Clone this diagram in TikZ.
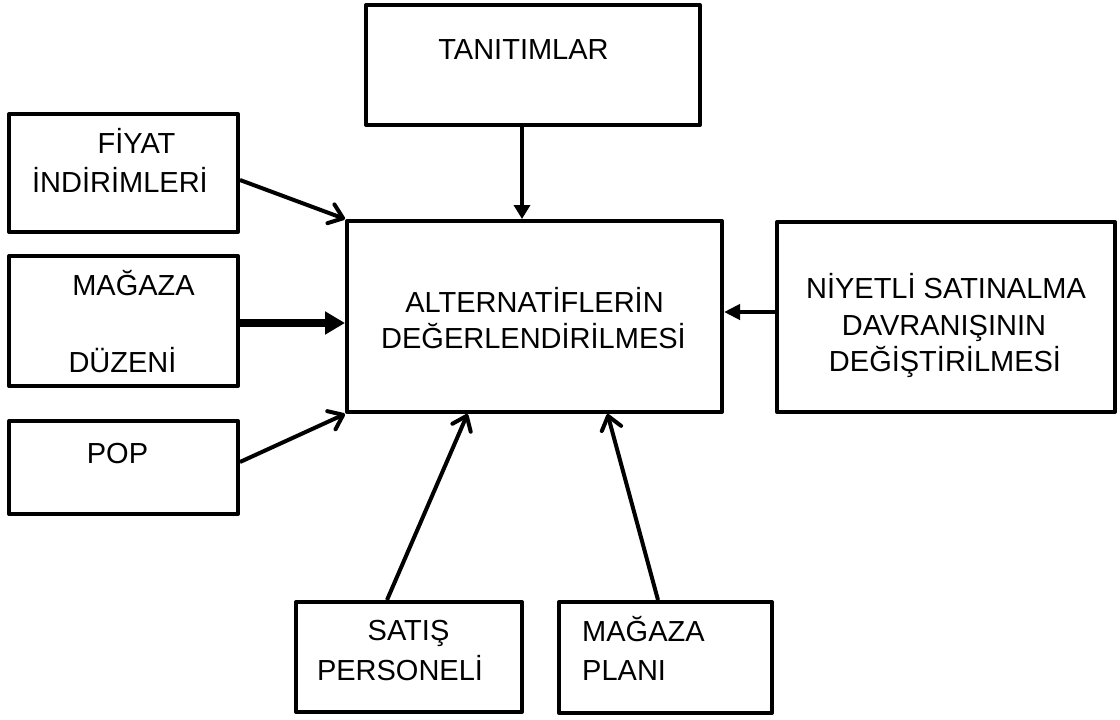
\documentclass[tikz,border=0pt]{standalone}
\usepackage{fontspec}
\setmainfont{Liberation Sans}
\usetikzlibrary{arrows.meta,calc}
\begin{document}
\begin{tikzpicture}[x=1pt,y=-1pt,
  box/.style={draw, line width=4pt, line join=round, rectangle, inner sep=0pt},
  lbl/.style={anchor=base, inner sep=0pt, font=\fontsize{29}{36}\selectfont},
  lbll/.style={anchor=base west, inner sep=0pt, font=\fontsize{29}{36}\selectfont},
  openarr/.style={line width=4pt, -{Straight Barb[length=13pt,width=20pt,line cap=round,line join=round]}},
  fillarr/.style={line width=4pt, -{Triangle[length=14pt,width=16pt]}},
  sidearr/.style={line width=4pt, -{Triangle[length=16pt,width=15pt]}},
  heavyarr/.style={line width=8pt, -{Triangle[length=20pt,width=22pt]}},
]
\useasboundingbox (0,0) rectangle (1120,720);

% boxes
\node[box, minimum width=334pt, minimum height=120pt] (tan) at (533,65) {};
\node[box, minimum width=375pt, minimum height=191pt] (alt) at (534.5,316.5) {};
\node[box, minimum width=229pt, minimum height=118pt] (fiy) at (123.5,173) {};
\node[box, minimum width=229pt, minimum height=130pt] (duz) at (123.5,321) {};
\node[box, minimum width=229pt, minimum height=93pt] (pop) at (123.5,467.5) {};
\node[box, minimum width=338pt, minimum height=190pt] (niy) at (946,317) {};
\node[box, minimum width=226pt, minimum height=110pt] (sat) at (409,657) {};
\node[box, minimum width=213pt, minimum height=111pt] (pla) at (665.5,657.5) {};

% texts
\node[lbl] (tanT) at (523.5,59) {TANITIMLAR};
\node[lbl] (fiyT1) at (136.5,153) {FİYAT};
\node[lbl] (fiyT2) at (120,192) {İNDİRİMLERİ};
\node[lbl] (duzT1) at (133.5,295) {MAĞAZA};
\node[lbl] (duzT2) at (122.5,372) {DÜZENİ};
\node[lbl] (popT) at (117.5,463) {POP};
\node[lbl] (altT1) at (534.5,312) {ALTERNATİFLERİN};
\node[lbl] (altT2) at (533.5,348) {DEĞERLENDİRİLMESİ};
\node[lbl] (niyT1) at (946,298) {NİYETLİ SATINALMA};
\node[lbl] (niyT2) at (944,335) {DAVRANIŞININ};
\node[lbl] (niyT3) at (945,371) {DEĞİŞTİRİLMESİ};
\node[lbl] (satT1) at (408.5,640) {SATIŞ};
\node[lbl] (satT2) at (400,680) {PERSONELİ};
\node[lbll] (plaT1) at (582,641) {MAĞAZA};
\node[lbll] (plaT2) at (582,680) {PLANI};

% connectors
\draw[openarr] ([yshift=-7pt]fiy.east) -- (alt.north west);
\draw[heavyarr] ([yshift=-2pt]duz.east) -- ([yshift=-2pt]duz.east -| alt.west);
\draw[openarr] ([yshift=5.5pt]pop.east) -- (alt.south west);
\draw[fillarr] ([xshift=-11pt]tan.south) -- ([xshift=-11pt]tan.south |- alt.north);
\draw[sidearr] ([yshift=5pt]niy.west) -- ([yshift=5pt]niy.west -| alt.east);
\draw[openarr] ([xshift=-22pt]sat.north) -- ([xshift=-67pt]alt.south);
\draw[openarr] ([xshift=-7.5pt]pla.north) -- ([xshift=73pt]alt.south);
\end{tikzpicture}
\end{document}
